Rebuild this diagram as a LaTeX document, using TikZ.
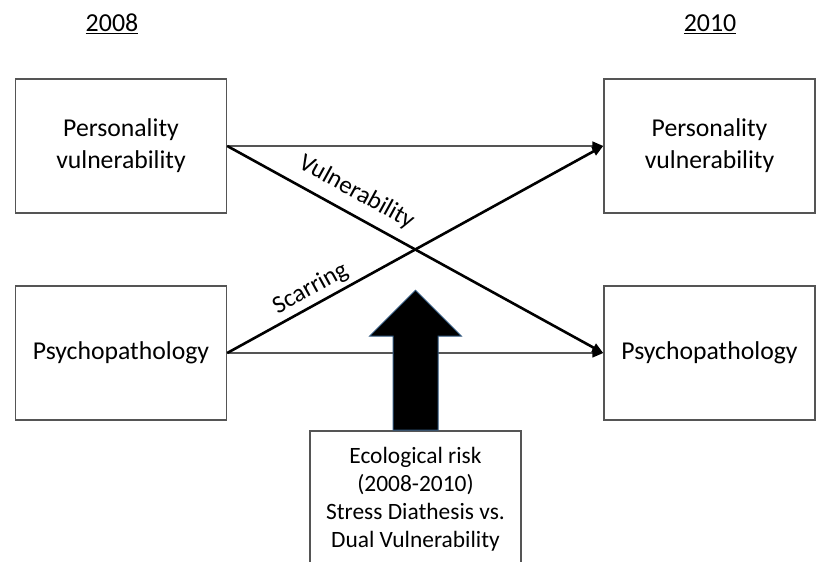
\documentclass[tikz,border=0pt]{standalone}
\usepackage{fontspec}
\setmainfont{Carlito}
\usetikzlibrary{arrows.meta}
\definecolor{boxgray}{RGB}{85,85,85}
\definecolor{arrowrim}{RGB}{50,90,130}

\tikzset{
    varbox/.style={draw=boxgray, line width=1.5bp, minimum width=211bp,
        minimum height=134bp, inner sep=0pt, align=center,
        font=\fontsize{25.8}{32}\selectfont},
    stability/.style={draw=boxgray, line width=1.5bp,
        -{Triangle[length=11bp,width=9bp,color=black]}},
    crosspath/.style={line width=2.6bp, -{Triangle[length=11bp,width=9bp]}},
    yearlabel/.style={font=\fontsize{26}{29}\selectfont},
    pathlabel/.style={sloped, anchor=south, font=\fontsize{25}{29}\selectfont},
    bigarrow/.style={fill=black, draw=arrowrim, line width=1bp},
}

\begin{document}
\begin{tikzpicture}[x=1bp,y=1bp]
    \useasboundingbox (0,0) rectangle (816,562);
    \clip (0,0) rectangle (816,562);

    % years
    \node[yearlabel] (y08) at (112,538) {\underline{2008}};
    \node[yearlabel] (y10) at (710,538) {\underline{2010}};

    % variables
    \node[varbox] (pv08) at (121,416) {Personality\\vulnerability};
    \node[varbox] (pp08) at (121,209) {Psychopathology};
    \node[varbox] (pv10) at (709.5,416) {Personality\\vulnerability};
    \node[varbox] (pp10) at (709.5,209) {Psychopathology};
    \node[varbox, minimum height=136bp, font=\fontsize{23.5}{28}\selectfont]
        (risk) at (415.5,63)
        {Ecological risk\\(2008-2010)\\Stress Diathesis vs.\\Dual Vulnerability};

    % paths
    \draw[stability] (pv08.east) -- (pv10.west);
    \draw[stability] (pp08.east) -- (pp10.west);
    \draw[crosspath] (pv08.east) -- (pp10.west)
        node[pathlabel, pos=0.316, inner sep=10bp] {Vulnerability};
    \draw[crosspath] (pp08.east) -- (pv10.west)
        node[pathlabel, pos=0.242, inner sep=4bp] {Scarring};

    % moderator arrow
    \draw[bigarrow] (risk.north) ++(-22.5,0) -- ++(0,94) -- ++(-23.5,0)
        -- ++(46,46) -- ++(46,-46) -- ++(-23.5,0) -- ++(0,-94) -- cycle;
\end{tikzpicture}
\end{document}
